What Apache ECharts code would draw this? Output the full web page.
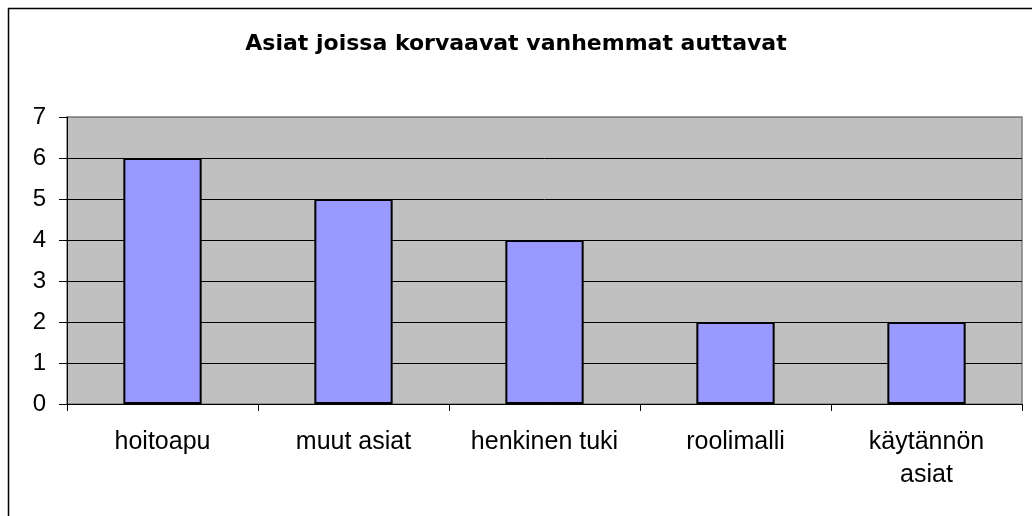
<!DOCTYPE html>
<html>
<head>
<meta charset="utf-8">
<script src="https://cdn.jsdelivr.net/npm/echarts@6/dist/echarts.min.js"></script>
<style>
  html, body { margin: 0; padding: 0; background: #fff; }
  #chart { width: 1032px; height: 516px; }
</style>
</head>
<body>
<div id="chart"></div>
<script>
const titleText = 'Asiat joissa korvaavat vanhemmat auttavat';
const categories = ['hoitoapu', 'muut asiat', 'henkinen tuki', 'roolimalli', 'käytännön\nasiat'];
const counts = [6, 5, 4, 2, 2];

const chart = echarts.init(document.getElementById('chart'));
chart.setOption({
  animation: false,
  backgroundColor: '#fff',
  textStyle: { fontFamily: 'Liberation Sans, Arial, sans-serif' },
  title: {
    text: titleText,
    left: 'center',
    top: 28,
    textStyle: { fontSize: 22, fontWeight: 'bold', color: '#000', fontFamily: 'DejaVu Sans' }
  },
  graphic: [{
    type: 'rect',
    shape: { x: 8.5, y: 8.5, width: 1100, height: 600 },
    style: { fill: 'none', stroke: '#000', lineWidth: 1.5 },
    silent: true
  }],
  grid: {
    left: 67, right: 10, top: 117, bottom: 112,
    show: true,
    backgroundColor: '#C0C0C0',
    borderColor: '#808080',
    borderWidth: 1.5
  },
  xAxis: {
    type: 'category',
    data: categories,
    axisLine: { lineStyle: { color: '#000', width: 1 } },
    axisTick: { show: true, length: 7, lineStyle: { color: '#000' } },
    axisLabel: { color: '#000', fontSize: 25, margin: 22, lineHeight: 33, interval: 0 }
  },
  yAxis: {
    type: 'value',
    min: 0, max: 7, interval: 1,
    axisLine: { show: true, lineStyle: { color: '#000', width: 1 } },
    axisTick: { show: true, length: 8, lineStyle: { color: '#000' } },
    axisLabel: { color: '#000', fontSize: 24, margin: 21 },
    splitLine: {
      show: true,
      lineStyle: { color: ['#000', '#000', '#000', '#000', '#000', '#000', '#000', '#808080'], width: 1 }
    }
  },
  series: [{
    type: 'bar',
    data: counts,
    barWidth: '41%',
    itemStyle: { color: '#9999FF', borderColor: '#000', borderWidth: 2 }
  }]
});
</script>
</body>
</html>
